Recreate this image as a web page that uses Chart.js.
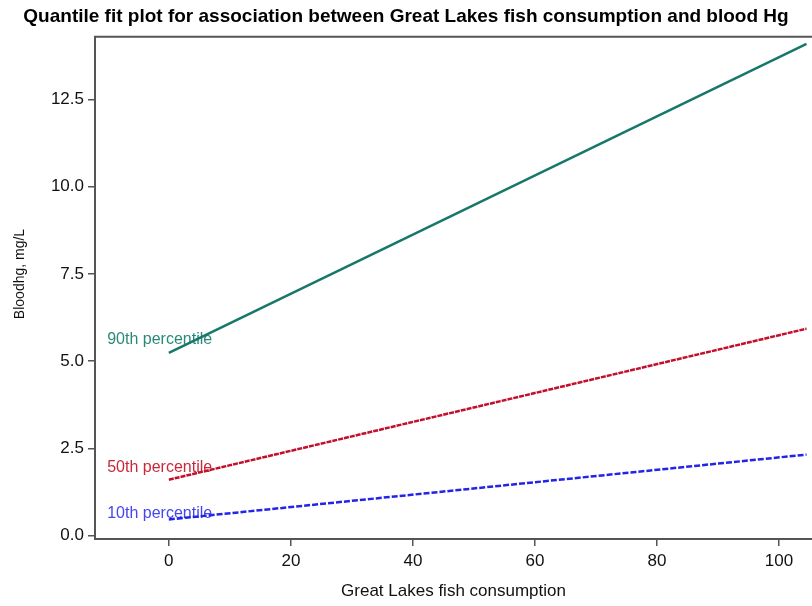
<!DOCTYPE html>
<html>
<head>
<meta charset="utf-8">
<script src="https://cdn.jsdelivr.net/npm/chart.js@4.4.0/dist/chart.umd.min.js"></script>
<style>
  html, body { margin: 0; padding: 0; background: #fff; overflow: hidden; }
  #wrap { width: 812px; height: 606px; }
</style>
</head>
<body>
<div id="wrap"><canvas id="qfit" width="812" height="606"></canvas></div>
<script>
// fish consumption endpoints of each fitted line
const xEnds = [0, 104.5];
const p90 = [5.24, 14.1];
const p50 = [1.6, 5.93];
const p10 = [0.46, 2.32];

const xTicks = [0, 20, 40, 60, 80, 100];
const yTicks = [0, 2.5, 5, 7.5, 10, 12.5];

const lineLabels = ['90th percentile', '50th percentile', '10th percentile'];
const labelX = [-10.1, -10.1, -10.1];
const labelY = [5.62, 1.95, 0.63];

const lineColors = ['#17786a', '#c2102c', '#2424e6'];
const textColors = ['#2a8a78', '#c8283c', '#4646ee'];

const toPts = ys => xEnds.map((x, i) => ({ x: x, y: ys[i] }));
const FAMILY = '"Liberation Sans", Arial, sans-serif';

// percentile labels sit under the lines
const labelPlugin = {
    id: 'lineLabels',
    beforeDatasetsDraw(chart) {
        const { ctx, scales } = chart;
        ctx.save();
        ctx.font = '16px ' + FAMILY;
        ctx.textBaseline = 'middle';
        ctx.textAlign = 'left';
        lineLabels.forEach((txt, i) => {
            ctx.fillStyle = textColors[i];
            ctx.fillText(txt, scales.x.getPixelForValue(labelX[i]), scales.y.getPixelForValue(labelY[i]));
        });
        ctx.restore();
    },
    afterDraw(chart) {
        const { ctx, chartArea } = chart;
        ctx.save();
        // top frame line
        ctx.strokeStyle = '#555';
        ctx.lineWidth = 2;
        ctx.beginPath();
        ctx.moveTo(chartArea.left - 1, chartArea.top);
        ctx.lineTo(chartArea.right, chartArea.top);
        ctx.stroke();
        // y axis title, sits a bit above the middle in the original
        ctx.fillStyle = '#111';
        ctx.font = '14px ' + FAMILY;
        ctx.textAlign = 'center';
        ctx.textBaseline = 'middle';
        ctx.translate(20, 274);
        ctx.rotate(-Math.PI / 2);
        ctx.fillText('Bloodhg, mg/L', 0, 0);
        ctx.restore();
    }
};

const tickFont = { family: FAMILY, size: 17 };

new Chart(document.getElementById('qfit'), {
    type: 'line',
    data: {
        datasets: [
            { label: lineLabels[0], data: toPts(p90), borderColor: lineColors[0], borderWidth: 2.5 },
            { label: lineLabels[1], data: toPts(p50), borderColor: lineColors[1], borderWidth: 2.5, borderDash: [5, 1] },
            { label: lineLabels[2], data: toPts(p10), borderColor: lineColors[2], borderWidth: 2.5, borderDash: [6, 2] }
        ]
    },
    options: {
        responsive: false,
        animation: false,
        layout: { padding: 0 },
        elements: { point: { radius: 0 }, line: { tension: 0 } },
        plugins: {
            legend: { display: false },
            tooltip: { enabled: false },
            title: {
                display: true,
                text: 'Quantile fit plot for association between Great Lakes fish consumption and blood Hg',
                color: '#000',
                font: { family: FAMILY, size: 19, weight: 'bold', lineHeight: 1.2 },
                padding: { top: 5, bottom: 9 }
            }
        },
        scales: {
            x: {
                type: 'linear',
                min: -12.1,
                max: 105.4,
                afterBuildTicks: s => { s.ticks = xTicks.map(v => ({ value: v })); },
                afterFit: s => { s.height = 67; },
                grid: { drawOnChartArea: false, drawTicks: true, tickLength: 7, color: '#555', lineWidth: 1.5 },
                border: { display: true, color: '#555', width: 2 },
                ticks: { color: '#111', font: tickFont, padding: 5, maxRotation: 0 },
                title: { display: true, text: 'Great Lakes fish consumption', color: '#111', font: tickFont, padding: { top: 4 } }
            },
            y: {
                type: 'linear',
                min: -0.1,
                max: 14.3,
                afterBuildTicks: s => { s.ticks = yTicks.map(v => ({ value: v })); },
                afterFit: s => { s.width = 95; },
                grid: { drawOnChartArea: false, drawTicks: true, tickLength: 7, color: '#555', lineWidth: 1.5 },
                border: { display: true, color: '#555', width: 2 },
                ticks: { color: '#111', font: tickFont, padding: 4, callback: v => v.toFixed(1) },
                title: { display: false }
            }
        }
    },
    plugins: [labelPlugin]
});
</script>
</body>
</html>
